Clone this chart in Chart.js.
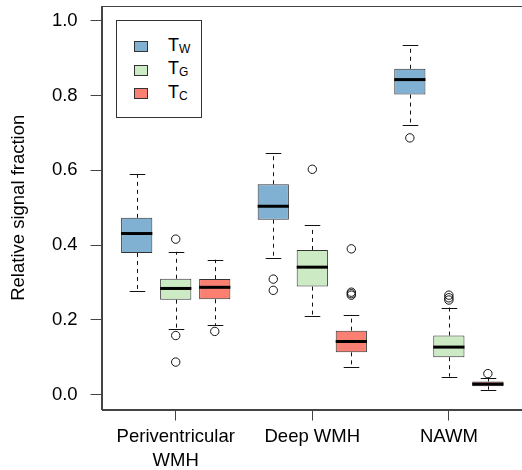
<!DOCTYPE html>
<html>
<head>
<meta charset="utf-8">
<script src="https://cdn.jsdelivr.net/npm/chart.js@4.4.1/dist/chart.umd.min.js"></script>
<style>
  html, body { margin: 0; padding: 0; background: #fff; overflow: hidden; }
  #wrap { position: relative; width: 524px; height: 470px; }
  #chart { display: block; }
  #legend {
    position: absolute; left: 116px; top: 20px; width: 84px; height: 96px;
    border: 1px solid #333; background: #fff;
    font-family: "Liberation Sans", Arial, Helvetica, sans-serif; color: #000;
  }
  .sw { position: absolute; left: 17px; width: 12px; height: 9px; border: 1px solid #333; }
  .lbl { position: absolute; left: 51px; font-size: 18px; line-height: 18px; white-space: nowrap; }
  .lbl sub { font-size: 12px; vertical-align: baseline; position: relative; top: 2px; }
</style>
</head>
<body>
<div id="wrap">
  <canvas id="chart" width="524" height="470"></canvas>
  <div id="legend"></div>
</div>
<script>
// Categories and where each group sits on the x axis
const categories = [['Periventricular', 'WMH'], 'Deep WMH', 'NAWM'];
const categoryPos = [2, 5.5, 9];
const yTicks = [0, 0.2, 0.4, 0.6, 0.8, 1.0];

// T_W (blue)
const twPos     = [1, 4.5, 8];
const twLow     = [0.277, 0.366, 0.721];
const twQ1      = [0.379, 0.468, 0.803];
const twMedian  = [0.431, 0.504, 0.843];
const twQ3      = [0.473, 0.563, 0.872];
const twHigh    = [0.589, 0.646, 0.935];
const twOut     = [[], [0.309, 0.279], [0.687]];

// T_G (green)
const tgPos     = [2, 5.5, 9];
const tgLow     = [0.176, 0.211, 0.048];
const tgQ1      = [0.254, 0.289, 0.100];
const tgMedian  = [0.284, 0.341, 0.127];
const tgQ3      = [0.310, 0.387, 0.158];
const tgHigh    = [0.382, 0.453, 0.233];
const tgOut     = [[0.416, 0.158, 0.087], [0.603], [0.266, 0.259, 0.253]];

// T_C (red)
const tcPos     = [3, 6.5, 10];
const tcLow     = [0.185, 0.074, 0.013];
const tcQ1      = [0.255, 0.113, 0.022];
const tcMedian  = [0.287, 0.142, 0.028];
const tcQ3      = [0.309, 0.171, 0.035];
const tcHigh    = [0.361, 0.214, 0.043];
const tcOut     = [[0.169], [0.390, 0.274, 0.270, 0.266], [0.056]];

const series = [
  { main: 'T', sub: 'W', color: '#80B1D3', pos: twPos, low: twLow, q1: twQ1, med: twMedian, q3: twQ3, high: twHigh, out: twOut },
  { main: 'T', sub: 'G', color: '#CCEBC5', pos: tgPos, low: tgLow, q1: tgQ1, med: tgMedian, q3: tgQ3, high: tgHigh, out: tgOut },
  { main: 'T', sub: 'C', color: '#FB8072', pos: tcPos, low: tcLow, q1: tcQ1, med: tcMedian, q3: tcQ3, high: tcHigh, out: tcOut }
];

const FONT = '"Liberation Sans", Arial, Helvetica, sans-serif';
const INK = '#333';

// ─── Legend (html, for the subscripts) ─────────────────────
const legend = document.getElementById('legend');
series.forEach((s, i) => {
  const sw = document.createElement('div');
  sw.className = 'sw';
  sw.style.top = (20 + 23.5 * i) + 'px';
  sw.style.background = s.color;
  legend.appendChild(sw);
  const lbl = document.createElement('div');
  lbl.className = 'lbl';
  lbl.style.top = (14.5 + 23.5 * i) + 'px';
  lbl.innerHTML = `${s.main}<sub>${s.sub}</sub>`;
  legend.appendChild(lbl);
});

// ─── Datasets ──────────────────────────────────────────────
const boxSets = series.map(s => ({
  type: 'bar',
  label: s.main + s.sub,
  data: s.pos.map((p, j) => ({ x: p, y: [s.q1[j], s.q3[j]] })),
  backgroundColor: s.color,
  borderColor: INK,
  borderWidth: 1,
  borderSkipped: false,
  grouped: false,
  categoryPercentage: 1,
  barPercentage: 0.8,
  order: 1
}));

const outlierPts = [];
series.forEach(s => s.out.forEach((vals, j) => vals.forEach(v => outlierPts.push({ x: s.pos[j], y: v }))));

const outlierSet = {
  type: 'scatter',
  label: 'outliers',
  data: outlierPts,
  pointStyle: 'circle',
  pointRadius: 4.2,
  pointBackgroundColor: 'rgba(0,0,0,0)',
  pointBorderColor: '#111',
  pointBorderWidth: 1,
  order: 0
};

// ─── Whiskers, caps, medians, frame ────────────────────────
const boxParts = {
  id: 'boxParts',
  beforeDatasetsDraw(chart) {
    const { ctx, scales: { x, y } } = chart;
    ctx.save();
    ctx.strokeStyle = '#111';
    ctx.lineWidth = 1;
    series.forEach(s => {
      s.pos.forEach((p, j) => {
        const cx = Math.round(x.getPixelForValue(p)) + 0.5;
        const capHalf = (x.getPixelForValue(p + 0.2) - x.getPixelForValue(p));
        // dashed whiskers
        ctx.setLineDash([4, 4]);
        ctx.beginPath();
        ctx.moveTo(cx, y.getPixelForValue(s.q3[j]));
        ctx.lineTo(cx, y.getPixelForValue(s.high[j]));
        ctx.moveTo(cx, y.getPixelForValue(s.q1[j]));
        ctx.lineTo(cx, y.getPixelForValue(s.low[j]));
        ctx.stroke();
        // caps
        ctx.setLineDash([]);
        ctx.beginPath();
        const yh = Math.round(y.getPixelForValue(s.high[j])) + 0.5;
        const yl = Math.round(y.getPixelForValue(s.low[j])) + 0.5;
        ctx.moveTo(cx - capHalf, yh); ctx.lineTo(cx + capHalf, yh);
        ctx.moveTo(cx - capHalf, yl); ctx.lineTo(cx + capHalf, yl);
        ctx.stroke();
      });
    });
    ctx.restore();
  },
  afterDatasetsDraw(chart) {
    const { ctx, scales: { x, y } } = chart;
    ctx.save();
    ctx.strokeStyle = '#000';
    ctx.lineWidth = 3;
    series.forEach((s, i) => {
      const meta = chart.getDatasetMeta(i);
      s.pos.forEach((p, j) => {
        const bar = meta.data[j];
        const half = bar.width / 2;
        const cx = x.getPixelForValue(p);
        const ym = y.getPixelForValue(s.med[j]);
        ctx.beginPath();
        ctx.moveTo(cx - half, ym);
        ctx.lineTo(cx + half, ym);
        ctx.stroke();
      });
    });
    ctx.restore();
  },
  afterDraw(chart) {
    const { ctx, chartArea: a } = chart;
    ctx.save();
    ctx.strokeStyle = '#444';
    ctx.lineWidth = 1;
    ctx.strokeRect(Math.round(a.left) + 0.5, Math.round(a.top) + 0.5,
      Math.round(a.right - a.left), Math.round(a.bottom - a.top));
    ctx.restore();
  }
};

// ─── Chart ─────────────────────────────────────────────────
new Chart(document.getElementById('chart'), {
  type: 'bar',
  data: { datasets: [...boxSets, outlierSet] },
  options: {
    responsive: false,
    animation: false,
    layout: { autoPadding: false, padding: { top: 6, right: 1, left: 0, bottom: 0 } },
    plugins: {
      legend: { display: false },
      tooltip: { enabled: false }
    },
    scales: {
      x: {
        type: 'linear',
        min: 0.1,
        max: 10.9,
        offset: false,
        afterFit: scale => {
          scale.height = 60.5;
          scale.paddingLeft = 0; scale.paddingRight = 0;
        },
        afterBuildTicks: scale => { scale.ticks = categoryPos.map(v => ({ value: v })); },
        ticks: {
          autoSkip: false,
          maxRotation: 0,
          padding: 5,
          color: '#000',
          font: { family: FONT, size: 18.5, lineHeight: 1.27 },
          callback: v => categories[categoryPos.indexOf(v)]
        },
        grid: { drawOnChartArea: false, drawTicks: true, tickLength: 11, color: '#444', offset: false },
        border: { display: true, color: '#444' }
      },
      y: {
        type: 'linear',
        min: -0.04,
        max: 1.04,
        afterFit: scale => {
          scale.width = 101.6;
          scale.paddingTop = 0; scale.paddingBottom = 0;
        },
        afterBuildTicks: scale => { scale.ticks = yTicks.map(v => ({ value: v })); },
        ticks: {
          padding: 13,
          color: '#000',
          font: { family: FONT, size: 18.5 },
          callback: v => v.toFixed(1)
        },
        grid: { drawOnChartArea: false, drawTicks: true, tickLength: 11, color: '#444' },
        border: { display: true, color: '#444' },
        title: {
          display: true,
          text: 'Relative signal fraction',
          color: '#000',
          font: { family: FONT, size: 18.5 },
          padding: { top: 8, bottom: 0 }
        }
      }
    }
  },
  plugins: [boxParts]
});
</script>
</body>
</html>
